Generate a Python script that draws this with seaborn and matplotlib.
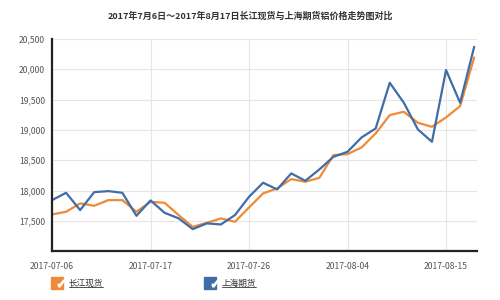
import matplotlib
matplotlib.use("Agg")
import matplotlib.pyplot as plt
import seaborn as sns
import pandas as pd
from matplotlib.lines import Line2D
from matplotlib.legend_handler import HandlerTuple
from matplotlib.ticker import FuncFormatter

dates = ["2017-07-06", "2017-07-07", "2017-07-10", "2017-07-11", "2017-07-12", "2017-07-13",
         "2017-07-14", "2017-07-17", "2017-07-18", "2017-07-19", "2017-07-20", "2017-07-21",
         "2017-07-24", "2017-07-25", "2017-07-26", "2017-07-27", "2017-07-28", "2017-07-31",
         "2017-08-01", "2017-08-02", "2017-08-03", "2017-08-04", "2017-08-07", "2017-08-08",
         "2017-08-09", "2017-08-10", "2017-08-11", "2017-08-14", "2017-08-15", "2017-08-16",
         "2017-08-17"]
changjiang = [17605, 17649, 17787, 17748, 17841, 17841, 17649, 17814, 17797, 17594, 17400,
              17467, 17539, 17484, 17720, 17952, 18034, 18188, 18144, 18210, 18584, 18600,
              18711, 18942, 19244, 19299, 19117, 19051, 19206, 19392, 20196]
shanghai = [17841, 17962, 17677, 17973, 17990, 17962, 17583, 17836, 17632, 17540, 17363,
            17457, 17440, 17594, 17896, 18128, 18018, 18282, 18160, 18348, 18556, 18639,
            18876, 19024, 19778, 19448, 19008, 18804, 19987, 19448, 20371]
series_names = ["长江现货", "上海期货"]
colors = ["#F08A38", "#3F6DA6"]
title = "2017年7月6日～2017年8月17日长江现货与上海期货铝价格走势图对比"
yticks = [17500, 18000, 18500, 19000, 19500, 20000, 20500]
tick_idx = [0, 7, 14, 21, 28]

sns.set_theme(style="whitegrid")
plt.rcParams["font.family"] = ["Noto Sans CJK SC", "DejaVu Sans"]

df = pd.DataFrame({
    "idx": list(range(len(dates))) * 2,
    "price": changjiang + shanghai,
    "series": [series_names[0]] * len(dates) + [series_names[1]] * len(dates),
})

fig = plt.figure(figsize=(5, 3), dpi=100)
ax = fig.add_axes([0.104, 0.163, 0.85, 0.707])
sns.lineplot(data=df, x="idx", y="price", hue="series", palette=colors,
             linewidth=1.6, ax=ax, legend=False)

ax.set_xlim(0, 30.2)
ax.set_ylim(17000, 20500)
ax.set_yticks(yticks)
ax.yaxis.set_major_formatter(FuncFormatter(lambda v, p: f"{int(v):,}"))
ax.set_xticks(tick_idx)
ax.set_xticklabels([dates[i] for i in tick_idx])
ax.set_xlabel("")
ax.set_ylabel("")
ax.grid(True, color="#E6E6E6", linewidth=0.8)
for s in ["top", "right"]:
    ax.spines[s].set_visible(False)
for s in ["left", "bottom"]:
    ax.spines[s].set_color("#222222")
    ax.spines[s].set_linewidth(1.6)
ax.tick_params(axis="both", labelsize=6.2, colors="#555555", length=3, width=1,
               direction="out", pad=2)
ax.tick_params(axis="x", pad=5)
ax.tick_params(axis="both", color="#222222")
ax.set_facecolor("white")

fig.text(0.5, 0.945, title, ha="center", va="center", fontsize=6.5,
         fontweight="bold", color="#333333")

handles = []
for c in colors:
    sq = Line2D([], [], marker="s", markersize=8, color=c, linestyle="none")
    ck = Line2D([], [], marker="$\u2713$", markersize=5, color="white", linestyle="none")
    handles.append((sq, ck))
leg = fig.legend(handles, series_names, handler_map={tuple: HandlerTuple(ndivide=None, pad=0)},
                 loc="lower left", bbox_to_anchor=(0.094, 0.015), ncol=2, frameon=False,
                 fontsize=6.2, columnspacing=12.2, handlelength=1.0, handletextpad=0.6)
for t in leg.get_texts():
    t.set_color("#333333")

fig.canvas.draw()
inv = fig.transFigure.inverted()
for t in leg.get_texts():
    bb = t.get_window_extent()
    (x0, y0), (x1, y1) = inv.transform([(bb.x0, bb.y0), (bb.x1, bb.y1)])
    fig.add_artist(Line2D([x0, x1], [y0 + 0.004, y0 + 0.004], transform=fig.transFigure,
                          color="#333333", linewidth=0.6))

fig.savefig("out.png", dpi=100)
